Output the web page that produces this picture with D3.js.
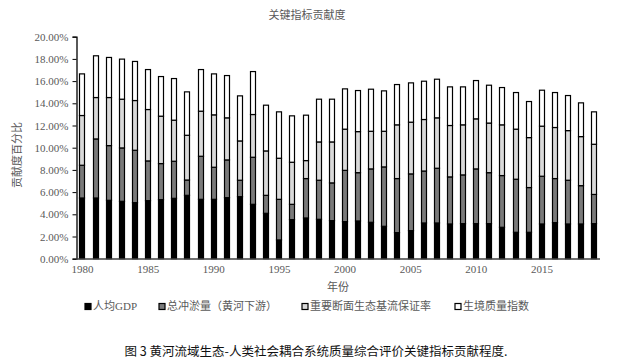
<!DOCTYPE html>
<html>
<head>
<meta charset="utf-8">
<script src="https://cdn.jsdelivr.net/npm/d3@7"></script>
<style>
  html, body { margin: 0; padding: 0; background: #fff; }
  svg { display: block; }
</style>
</head>
<body>
<svg id="chart" width="620" height="364"></svg>
<script>
const years = d3.range(1980, 2020);
const seriesNames = ["人均GDP", "总冲淤量（黄河下游）", "重要断面生态基流保证率", "生境质量指数"];
const gdp = [5.47,5.47,5.26,5.17,5.05,5.23,5.32,5.44,5.71,5.35,5.35,5.50,5.59,4.90,4.09,1.69,3.52,3.67,3.55,3.43,3.34,3.40,3.28,2.92,2.35,2.53,3.22,3.22,3.13,3.16,3.16,3.16,2.83,2.38,2.38,3.13,3.25,3.13,3.13,3.16];
const sediment = [2.95,5.32,4.93,4.81,4.72,3.58,3.25,3.34,1.38,3.88,2.89,3.40,1.48,4.24,1.62,3.66,1.38,3.55,3.52,3.40,4.62,4.35,4.81,5.35,4.87,5.11,4.68,4.93,4.24,4.39,4.93,4.59,4.66,4.78,4.03,4.30,3.97,3.94,3.45,2.63];
const ecoFlow = [4.48,3.73,4.33,4.39,4.48,4.63,4.27,3.70,4.03,4.06,4.72,3.79,3.54,3.85,4.00,3.70,3.79,1.62,3.45,3.69,3.71,3.70,3.39,3.21,4.84,4.66,4.64,4.54,4.63,4.51,4.51,4.47,4.57,4.51,4.50,4.51,4.60,4.47,4.42,4.52];
const habitat = [3.75,3.76,3.61,3.61,3.52,3.60,3.57,3.75,3.91,3.75,3.69,3.81,4.06,3.87,4.12,4.18,4.18,4.09,3.85,3.85,3.63,3.70,3.79,3.64,3.63,3.54,3.45,3.48,3.48,3.42,3.45,3.41,3.36,3.30,3.25,3.24,3.15,3.16,3.04,2.92];
const yTicks = [0,2,4,6,8,10,12,14,16,18,20];
const xTickYears = [1980,1985,1990,1995,2000,2005,2010,2015];
const colors = ["#000000", "#7a7a7a", "#d9d9d9", "#ffffff"];

const rows = years.map((y, i) => ({year: y, s0: gdp[i], s1: sediment[i], s2: ecoFlow[i], s3: habitat[i]}));
const keys = ["s0","s1","s2","s3"];
const stacked = d3.stack().keys(keys)(rows);

const svg = d3.select("#chart");
const x = d3.scaleBand().domain(years).range([76, 601]).paddingInner(0.52).paddingOuter(0.26);
const y = d3.scaleLinear().domain([0, 20]).range([258.7, 36.7]);

const serif = "'Liberation Serif', 'Times New Roman', serif";
const cjk = "'Noto Sans CJK SC', sans-serif";
const grey = "#595959";

// bars
svg.append("g").selectAll("g").data(stacked).join("g")
  .attr("fill", (d, i) => colors[i])
  .selectAll("rect").data(d => d).join("rect")
  .attr("x", d => Math.round(x(d.data.year)) + 0.5)
  .attr("y", d => y(d[1]))
  .attr("width", Math.round(x.bandwidth()) - 1)
  .attr("height", d => y(d[0]) - y(d[1]))
  .attr("stroke", "#000")
  .attr("stroke-width", 1.2);

// y axis
const yAxis = d3.axisLeft(y).tickValues(yTicks).tickSize(4).tickFormat(d => d.toFixed(2) + "%");
const ya = svg.append("g").attr("transform", "translate(76.5,0)").call(yAxis);
ya.select(".domain").attr("stroke", "#000").attr("stroke-width", 1.3);
ya.selectAll(".tick line").attr("stroke", "#000");
ya.selectAll("text").attr("font-family", serif).attr("font-size", 11).attr("fill", grey).attr("x", -8);

// x axis
const xa = svg.append("g").attr("transform", "translate(0,259)")
  .call(d3.axisBottom(x).tickValues(xTickYears).tickSize(0).tickSizeOuter(0));
xa.select(".domain").attr("stroke", "#404040").attr("stroke-width", 1.5).attr("d", "M76,0H600");
xa.selectAll("text").attr("font-family", serif).attr("font-size", 11).attr("fill", grey).attr("dy", "0.71em").attr("y", 6);

// title
svg.append("text").attr("x", 307).attr("y", 19).attr("text-anchor", "middle")
  .attr("font-family", cjk).attr("font-size", 11).attr("fill", grey).text("关键指标贡献度");

// y label
svg.append("text").attr("transform", "translate(21,155) rotate(-90)").attr("text-anchor", "middle")
  .attr("font-family", cjk).attr("font-size", 11).attr("fill", grey).text("贡献度百分比");

// x label
svg.append("text").attr("x", 338).attr("y", 291).attr("text-anchor", "middle")
  .attr("font-family", cjk).attr("font-size", 11).attr("fill", grey).text("年份");

// legend
const legendX = [85, 159, 302, 455];
const lg = svg.append("g").selectAll("g").data(seriesNames).join("g")
  .attr("transform", (d, i) => `translate(${legendX[i]},310)`);
lg.append("rect").attr("x", 0).attr("y", -6.5).attr("width", 6).attr("height", 6)
  .attr("fill", (d, i) => colors[i]).attr("stroke", "#000").attr("stroke-width", 1.2);
lg.append("text").attr("x", 8).attr("y", 0)
  .attr("font-family", (d, i) => cjk).attr("font-size", 11).attr("fill", grey)
  .each(function(d) {
    const t = d3.select(this);
    if (d === "人均GDP") {
      t.append("tspan").text("人均");
      t.append("tspan").attr("font-family", serif).text("GDP");
    } else {
      t.text(d);
    }
  });

// caption
svg.append("text").attr("x", 316).attr("y", 356).attr("text-anchor", "middle")
  .attr("font-family", cjk).attr("font-size", 12.5).attr("fill", "#111").text("图 3 黄河流域生态-人类社会耦合系统质量综合评价关键指标贡献程度.");
</script>
</body>
</html>
